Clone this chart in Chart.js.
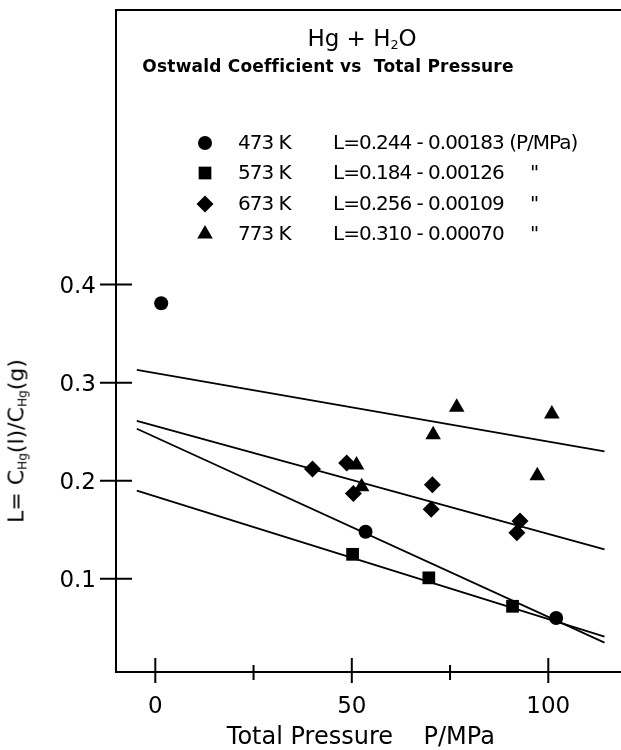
<!DOCTYPE html>
<html>
<head>
<meta charset="utf-8">
<script src="https://cdn.jsdelivr.net/npm/chart.js@4/dist/chart.umd.min.js"></script>
<style>
  body { margin: 0; background: #fff; }
  #wrap { position: relative; width: 621px; height: 750px; font-family: "DejaVu Sans", sans-serif; color: #000; }
  #wrap canvas#chart { position: absolute; left: 0; top: 0; }
  .txt { position: absolute; white-space: pre; line-height: 1; }
  #title { left: 362px; top: 27px; font-size: 23px; transform: translateX(-50%); }
  #subtitle { left: 328px; top: 58px; font-size: 17px; font-weight: bold; letter-spacing: 0.2px; transform: translateX(-50%); }
  #ytitle { left: 17px; top: 441px; font-size: 22px; transform: translate(-50%, -50%) rotate(-90deg); }
  .sb { font-size: 0.55em; vertical-align: -0.25em; }
  .leg { position: absolute; height: 30px; line-height: 30px; font-size: 20px; letter-spacing: -1px; white-space: pre; }
  .leg canvas { position: absolute; }
</style>
</head>
<body>
<div id="wrap">
  <canvas id="chart" width="621" height="750"></canvas>
  <div class="txt" id="title">Hg + H<span class="sb">2</span>O</div>
  <div class="txt" id="subtitle">Ostwald Coefficient vs  Total Pressure</div>
  <div class="txt" id="ytitle">L= C<span class="sb">Hg</span>(l)/C<span class="sb">Hg</span>(g)</div>
</div>
<script>
// legend / series labels
const temps = ['473 K', '573 K', '673 K', '773 K'];
const equations = ['L=0.244 - 0.00183 (P/MPa)', 'L=0.184 - 0.00126', 'L=0.256 - 0.00109', 'L=0.310 - 0.00070'];
const ditto = ['', '"', '"', '"'];
const pointStyles = ['circle', 'rect', 'rectRot', 'triangle'];
const pointSizes = [7, 9, 8.5, 9];

// measured points, P/MPa and L
const p473 = [1.5, 53.5, 102.0];
const l473 = [0.381, 0.148, 0.060];
const p573 = [50.2, 69.6, 90.9];
const l573 = [0.125, 0.101, 0.072];
const p673 = [40.0, 48.7, 50.4, 70.5, 70.2, 92.8, 92.0];
const l673 = [0.212, 0.218, 0.187, 0.196, 0.171, 0.159, 0.147];
const p773 = [51.2, 52.5, 70.7, 76.7, 97.2, 100.9];
const l773 = [0.216, 0.194, 0.247, 0.275, 0.205, 0.268];

// fitted lines, end points
const fitP = [-4.7, 114.3];
const fit473 = [0.253, 0.035];
const fit573 = [0.190, 0.041];
const fit673 = [0.261, 0.130];
const fit773 = [0.313, 0.230];

// axis ticks
const xMajor = [0, 50, 100];
const xMinor = [25, 75];
const yMajor = [0.1, 0.2, 0.3, 0.4];

function pts(xs, ys) {
    return xs.map((x, i) => ({ x: x, y: ys[i] }));
}

const markerSets = [[p473, l473], [p573, l573], [p673, l673], [p773, l773]];
const fitSets = [fit473, fit573, fit673, fit773];

let datasets = [];
markerSets.forEach((s, i) => {
    datasets.push({
        label: temps[i],
        data: pts(s[0], s[1]),
        showLine: false,
        pointStyle: pointStyles[i],
        pointRadius: pointSizes[i],
        pointHoverRadius: pointSizes[i],
        backgroundColor: '#000',
        borderColor: '#000',
        borderWidth: 0
    });
});
fitSets.forEach((f, i) => {
    datasets.push({
        label: equations[i],
        data: pts(fitP, f),
        showLine: true,
        pointRadius: 0,
        borderColor: '#000',
        borderWidth: 1.8,
        fill: false
    });
});

// top frame line and the ticks that cross the axes
const frameTicks = {
    id: 'frameTicks',
    afterDraw(chart) {
        const { ctx, chartArea: a, scales: { x, y } } = chart;
        ctx.save();
        ctx.strokeStyle = '#000';
        ctx.lineWidth = 2;
        ctx.beginPath();
        ctx.moveTo(a.left - 1, a.top);
        ctx.lineTo(a.right, a.top);
        xMajor.forEach(v => {
            const px = x.getPixelForValue(v);
            ctx.moveTo(px, a.bottom - 14);
            ctx.lineTo(px, a.bottom + 11);
        });
        xMinor.forEach(v => {
            const px = x.getPixelForValue(v);
            ctx.moveTo(px, a.bottom - 7);
            ctx.lineTo(px, a.bottom + 8);
        });
        yMajor.forEach(v => {
            const py = y.getPixelForValue(v);
            ctx.moveTo(a.left - 16, py);
            ctx.lineTo(a.left + 16, py);
        });
        ctx.stroke();
        ctx.restore();
    }
};

function noPad(s) {
    s.paddingTop = 0;
    s.paddingBottom = 0;
    s.paddingLeft = 0;
    s.paddingRight = 0;
}

Chart.defaults.font.family = '"DejaVu Sans", sans-serif';
Chart.defaults.color = '#000';

const chart = new Chart(document.getElementById('chart'), {
    type: 'scatter',
    data: { datasets: datasets },
    options: {
        responsive: false,
        animation: false,
        events: [],
        layout: { autoPadding: false, padding: { top: 10, left: 0, right: 0, bottom: 0 } },
        plugins: { legend: { display: false }, tooltip: { enabled: false } },
        scales: {
            x: {
                type: 'linear',
                min: -10,
                max: 118.5,
                afterFit: s => { s.height = 78; noPad(s); },
                afterBuildTicks: s => { s.ticks = xMajor.map(v => ({ value: v })); },
                grid: { display: false, drawTicks: false },
                border: { display: true, color: '#000', width: 2 },
                ticks: { font: { size: 23 }, padding: 21, maxRotation: 0 },
                title: {
                    display: true,
                    text: 'Total Pressure    P/MPa  ',
                    font: { size: 24, lineHeight: 1 },
                    padding: { top: 0, bottom: 0 }
                }
            },
            y: {
                type: 'linear',
                min: 0.005,
                max: 0.68,
                afterFit: s => { s.width = 116; noPad(s); },
                afterBuildTicks: s => { s.ticks = yMajor.map(v => ({ value: v })); },
                grid: { display: false, drawTicks: false },
                border: { display: true, color: '#000', width: 2 },
                ticks: { font: { size: 23 }, padding: 20, labelOffset: 2, callback: v => v.toFixed(1) }
            }
        }
    },
    plugins: [frameTicks]
});

// legend block inside the frame
const wrap = document.getElementById('wrap');
temps.forEach((t, i) => {
    const top = 127 + i * 30.3;
    const row = document.createElement('div');
    row.className = 'leg';
    row.style.left = '0px';
    row.style.top = top + 'px';
    row.style.width = '621px';

    const c = document.createElement('canvas');
    c.width = 24; c.height = 24;
    c.style.left = (205 - 12) + 'px';
    c.style.top = (15 - 12 + 1) + 'px';
    const cx = c.getContext('2d');
    cx.fillStyle = '#000';
    Chart.helpers.drawPoint(cx, { pointStyle: pointStyles[i], radius: pointSizes[i], rotation: 0, borderWidth: 0 }, 12, 12);
    row.appendChild(c);

    [[t, 238], [equations[i], 333], [ditto[i], 530]].forEach(p => {
        const s = document.createElement('span');
        s.textContent = p[0];
        s.style.position = 'absolute';
        s.style.left = p[1] + 'px';
        row.appendChild(s);
    });
    wrap.appendChild(row);
});
</script>
</body>
</html>
